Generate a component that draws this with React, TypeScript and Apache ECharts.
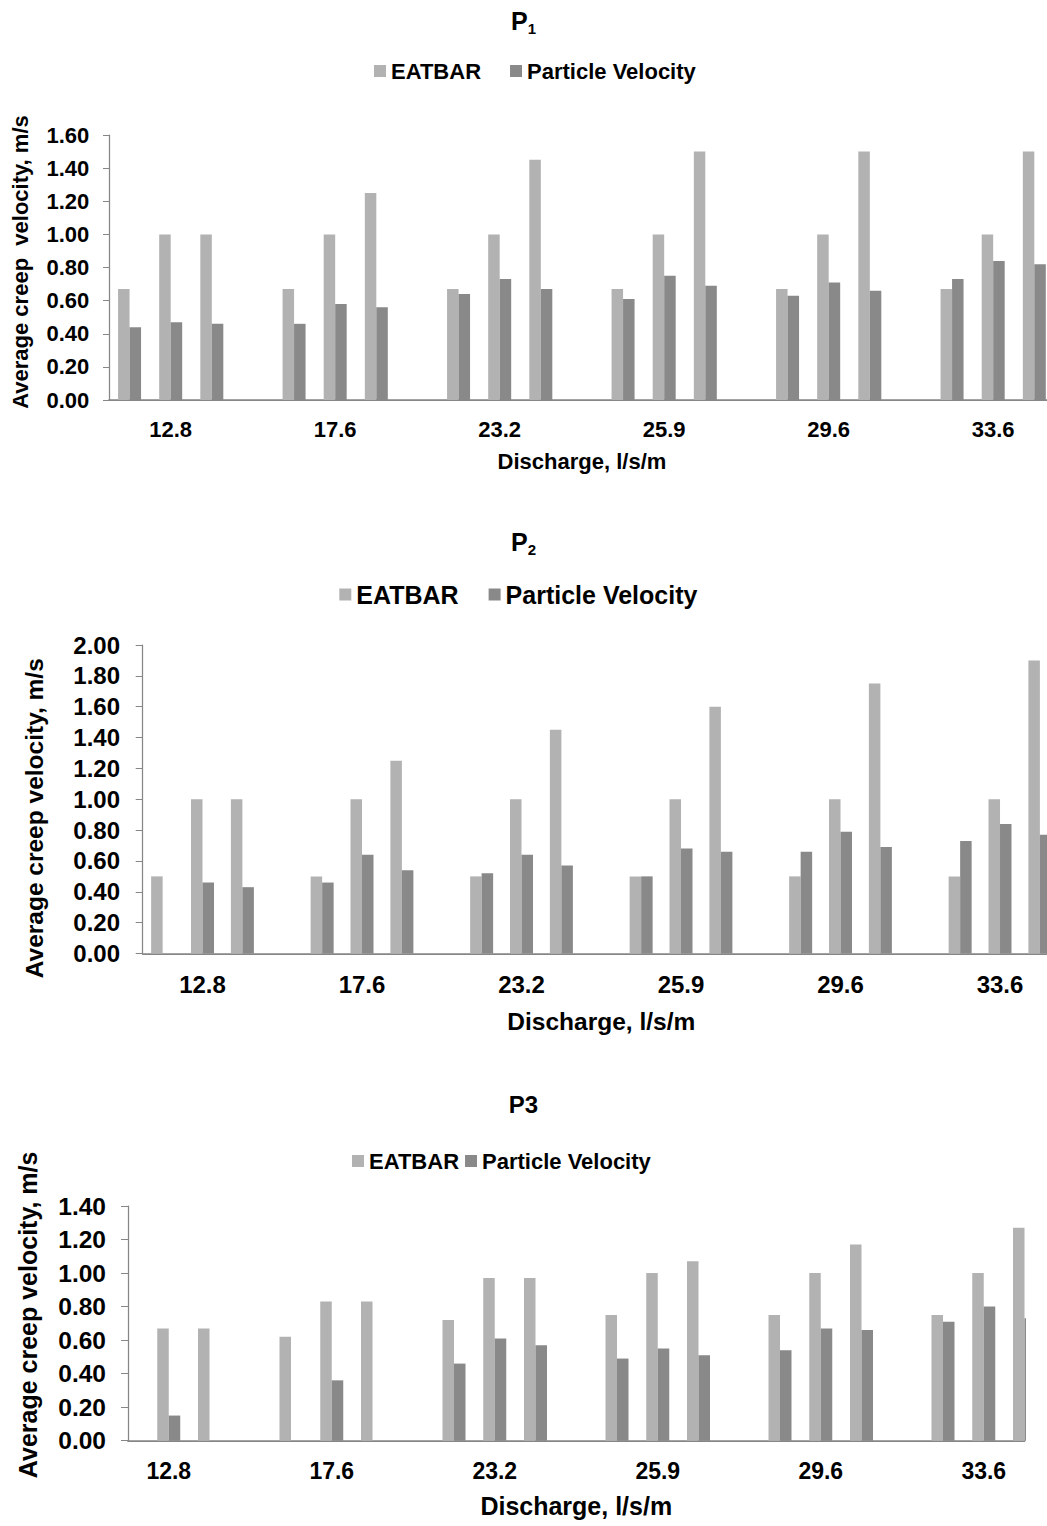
import React, { useEffect, useRef } from 'react';
import * as echarts from 'echarts';

const discharge = ['12.8', '17.6', '23.2', '25.9', '29.6', '33.6'];
const seriesNames = ['EATBAR', 'Particle Velocity'];

// P1 values (3 runs per discharge)
const p1Eatbar = [0.67, 1.0, 1.0, 0.67, 1.0, 1.25, 0.67, 1.0, 1.45, 0.67, 1.0, 1.5, 0.67, 1.0, 1.5, 0.67, 1.0, 1.5];
const p1Particle = [0.44, 0.47, 0.46, 0.46, 0.58, 0.56, 0.64, 0.73, 0.67, 0.61, 0.75, 0.69, 0.63, 0.71, 0.66, 0.73, 0.84, 0.82];

// P2 values
const p2Eatbar = [0.5, 1.0, 1.0, 0.5, 1.0, 1.25, 0.5, 1.0, 1.45, 0.5, 1.0, 1.6, 0.5, 1.0, 1.75, 0.5, 1.0, 1.9];
const p2Particle = [null, 0.46, 0.43, 0.46, 0.64, 0.54, 0.52, 0.64, 0.57, 0.5, 0.68, 0.66, 0.66, 0.79, 0.69, 0.73, 0.84, 0.77];

// P3 values
const p3Eatbar = [null, 0.67, 0.67, 0.62, 0.83, 0.83, 0.72, 0.97, 0.97, 0.75, 1.0, 1.07, 0.75, 1.0, 1.17, 0.75, 1.0, 1.27];
const p3Particle = [null, 0.15, null, null, 0.36, null, 0.46, 0.61, 0.57, 0.49, 0.55, 0.51, 0.54, 0.67, 0.66, 0.71, 0.8, 0.73];

const yMax = [1.6, 2.0, 1.4];
const yInterval = 0.2;

const COLORS = ['#B2B2B2', '#898989'];
const AXIS_COLOR = '#868686';
const FONT = '"Liberation Sans", Arial, Helvetica, sans-serif';

// build slots: 3 runs per group, an empty slot between groups
function toSlots(values: (number | null)[]) {
  const out: (number | null)[] = [];
  for (let g = 0; g < discharge.length; g++) {
    for (let k = 0; k < 3; k++) out.push(values[g * 3 + k]);
    if (g < discharge.length - 1) out.push(null);
  }
  return out;
}
function slotLabels() {
  const out: string[] = [];
  for (let g = 0; g < discharge.length; g++) {
    out.push('', discharge[g], '');
    if (g < discharge.length - 1) out.push('');
  }
  return out;
}

const txt = (size: number, extra: any = {}) => ({
  fontSize: size,
  fontWeight: 'bold',
  fontFamily: FONT,
  color: '#000',
  ...extra,
});

export default function App() {
  const ref = useRef<HTMLDivElement>(null);

  useEffect(() => {
    if (!ref.current) return;
    const chart = echarts.init(ref.current, undefined, { renderer: 'svg' });
    const cats = slotLabels();

    const grids = [
      { left: 109, top: 135, width: 23 * 41.125, height: 265 },
      { left: 142.7, top: 645, width: 23 * 39.875, height: 308.5 },
      { left: 128, top: 1206, width: 22 * 40.75, height: 234.7 },
    ];

    const xCfg = [
      { boundaryGap: true, fs: 22, margin: 18, nameFs: 22, nameGap: 50 },
      { boundaryGap: true, fs: 24, margin: 19, nameFs: 24.5, nameGap: 55 },
      { boundaryGap: false, fs: 23, margin: 19, nameFs: 25, nameGap: 53 },
    ];
    const yCfg = [
      { name: 'Average creep  velocity, m/s', fs: 22, margin: 19.7, tick: 6, nameFs: 22, nameGap: 78, padding: [0, 0, 0, 11] },
      { name: 'Average creep velocity, m/s', fs: 24, margin: 22.7, tick: 7, nameFs: 24.5, nameGap: 96, padding: [0, 38, 0, 0] },
      { name: 'Average creep velocity, m/s', fs: 24.5, margin: 22, tick: 7, nameFs: 25, nameGap: 88, padding: [0, 0, 0, 17] },
    ];

    const data = [
      [p1Eatbar, p1Particle],
      [p2Eatbar, p2Particle],
      [p3Eatbar, p3Particle],
    ];

    const series: any[] = [];
    data.forEach((pair, i) => {
      pair.forEach((vals, s) => {
        series.push({
          type: 'bar',
          name: seriesNames[s],
          xAxisIndex: i,
          yAxisIndex: i,
          data: toSlots(vals),
          barWidth: 11.5,
          barGap: '0%',
          clip: true,
          itemStyle: { color: COLORS[s] },
        });
      });
    });

    const richTitle = (sub: string, top: number) => ({
      text: `{p|P}{s|${sub}}`,
      left: 'center',
      top,
      padding: 0,
      textStyle: {
        ...txt(25),
        rich: {
          p: txt(25, { lineHeight: 30 }),
          s: txt(15, { lineHeight: 14, verticalAlign: 'bottom' }),
        },
      },
    });

    const legend = (left: number, top: number, fs: number, gap: number) => ({
      left,
      top,
      padding: 0,
      itemWidth: 12,
      itemHeight: 12,
      itemGap: gap,
      icon: 'rect',
      selectedMode: false,
      data: seriesNames,
      textStyle: txt(fs, { lineHeight: fs }),
    });

    // plot area edge of the third chart: bars beyond it are cut off
    const p3Right = grids[2].left + grids[2].width + 1.5;

    const option: any = {
      animation: false,
      backgroundColor: '#ffffff',
      title: [
        richTitle('1', 5.5),
        richTitle('2', 527.2),
        { text: 'P3', left: 'center', top: 1092.7, padding: 0, textStyle: txt(24, { lineHeight: 24 }) },
      ],
      legend: [legend(374, 60, 22, 29), legend(339.3, 582, 25, 30), legend(352, 1150, 22, 6)],
      grid: grids.map((g) => ({ ...g, containLabel: false, outerBoundsMode: 'none' })),
      graphic: [
        {
          type: 'rect',
          z: 100,
          silent: true,
          shape: { x: p3Right, y: grids[2].top - 10, width: 1047 - p3Right + 5, height: grids[2].height + 12 },
          style: { fill: '#ffffff' },
        },
      ],
      xAxis: xCfg.map((c, i) => ({
        type: 'category',
        gridIndex: i,
        data: cats,
        boundaryGap: c.boundaryGap,
        axisLine: { show: true, lineStyle: { color: AXIS_COLOR, width: 1.75 } },
        axisTick: { show: false },
        splitLine: { show: false },
        axisLabel: { interval: 0, margin: c.margin, ...txt(c.fs) },
        name: 'Discharge, l/s/m',
        nameLocation: 'middle',
        nameGap: c.nameGap,
        nameTextStyle: txt(c.nameFs),
      })),
      yAxis: yCfg.map((c, i) => ({
        type: 'value',
        gridIndex: i,
        min: 0,
        max: yMax[i],
        interval: yInterval,
        axisLine: { show: true, lineStyle: { color: AXIS_COLOR, width: 1.25 } },
        axisTick: { show: true, length: c.tick, lineStyle: { color: AXIS_COLOR, width: 1 } },
        splitLine: { show: false },
        axisLabel: { margin: c.margin, formatter: (v: number) => v.toFixed(2), ...txt(c.fs) },
        name: c.name,
        nameLocation: 'middle',
        nameRotate: 90,
        nameGap: c.nameGap,
        nameTextStyle: txt(c.nameFs, { padding: c.padding }),
      })),
      series,
    };

    chart.setOption(option);
    return () => chart.dispose();
  }, []);

  return (
    <div
      ref={ref}
      style={{ position: 'absolute', left: 0, top: 0, width: 1047, height: 1526, background: '#fff' }}
    />
  );
}
